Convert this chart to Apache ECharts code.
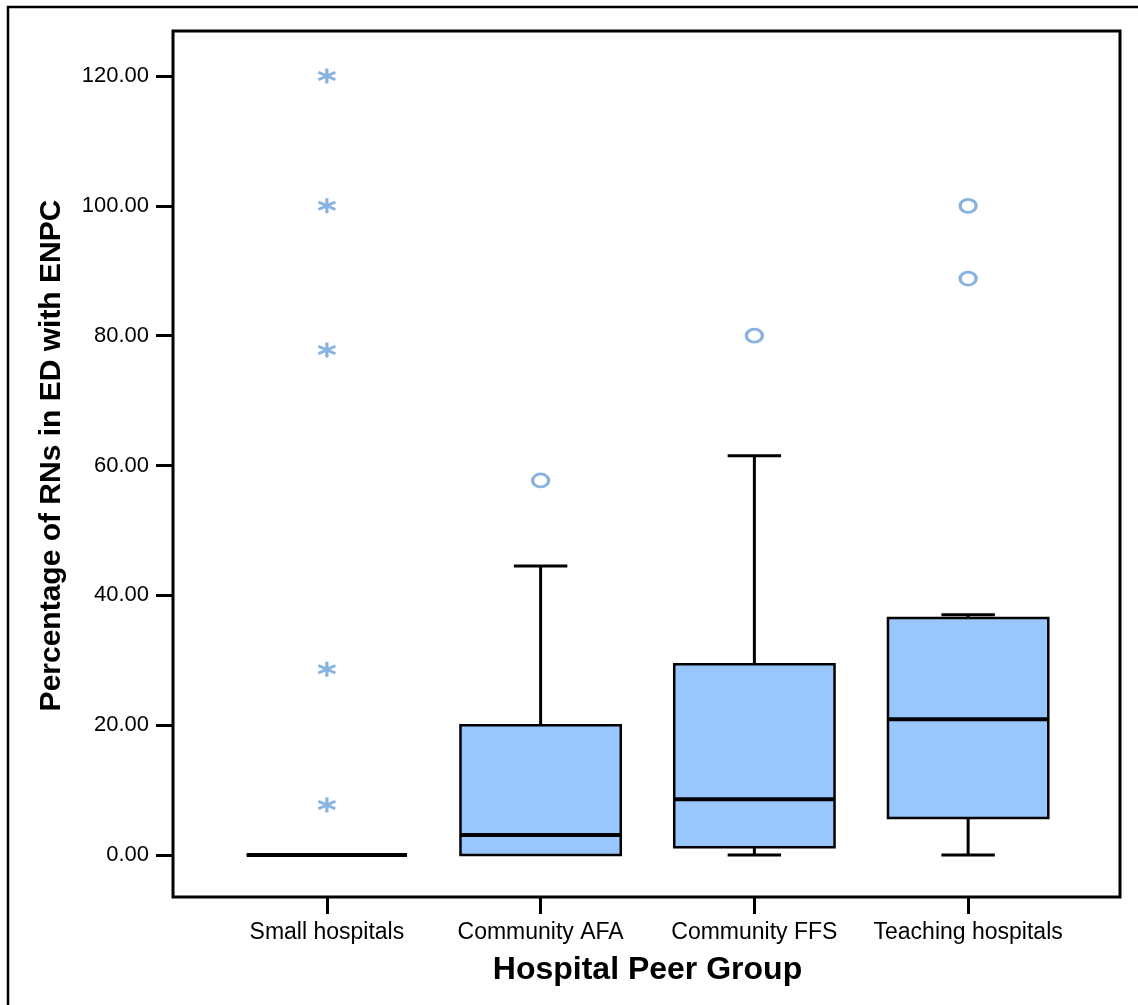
<!DOCTYPE html>
<html>
<head>
<meta charset="utf-8">
<script src="https://cdn.jsdelivr.net/npm/echarts@6/dist/echarts.min.js"></script>
<style>
    html, body { margin: 0; padding: 0; background: #fff; }
    #main { width: 1138px; height: 1005px; }
</style>
</head>
<body>
<div id="main"></div>
<script>
    'use strict';
    var categories = ['Small hospitals', 'Community AFA', 'Community FFS', 'Teaching hospitals'];
    // [low whisker, Q1, median, Q3, high whisker]
    var boxValues = [
        [0, 0, 0, 0, 0],
        [0, 0, 3.1, 20, 44.5],
        [0, 1.2, 8.6, 29.4, 61.5],
        [0, 5.7, 20.9, 36.5, 37]
    ];
    // extreme outliers (stars)
    var extremes = [[0, 120], [0, 100], [0, 77.8], [0, 28.6], [0, 7.7]];
    // outliers (circles)
    var outliers = [[1, 57.7], [2, 80], [3, 100], [3, 88.8]];
    var yTicks = { min: 0, max: 120, interval: 20 };

    var boxData = boxValues.map(function (v, i) {
        return [i].concat(v);
    });

    var renderBox = function (params, api) {
        var x = api.value(0);
        var lo = api.coord([x, api.value(1)]);
        var q1 = api.coord([x, api.value(2)]);
        var med = api.coord([x, api.value(3)]);
        var q3 = api.coord([x, api.value(4)]);
        var hi = api.coord([x, api.value(5)]);
        var band = api.size([1, 0])[0];
        var bw = band * 0.75, cw = bw / 3;
        var cx = lo[0];
        var line = { stroke: '#000', lineWidth: 3 };
        var children = [];
        if (hi[1] < q3[1]) {
            children.push({ type: 'line', shape: { x1: cx, y1: hi[1], x2: cx, y2: q3[1] }, style: line });
            children.push({ type: 'line', shape: { x1: cx - cw / 2, y1: hi[1], x2: cx + cw / 2, y2: hi[1] }, style: line });
        }
        if (lo[1] > q1[1]) {
            children.push({ type: 'line', shape: { x1: cx, y1: q1[1], x2: cx, y2: lo[1] }, style: line });
            children.push({ type: 'line', shape: { x1: cx - cw / 2, y1: lo[1], x2: cx + cw / 2, y2: lo[1] }, style: line });
        }
        children.push({
            type: 'rect',
            shape: { x: cx - bw / 2, y: q3[1], width: bw, height: q1[1] - q3[1] },
            style: { fill: '#99c6fd', stroke: '#000', lineWidth: 2.5 }
        });
        children.push({
            type: 'line',
            shape: { x1: cx - bw / 2, y1: med[1], x2: cx + bw / 2, y2: med[1] },
            style: { stroke: '#000', lineWidth: 4 }
        });
        return { type: 'group', children: children };
    };

    var font = 'Liberation Sans, Arial, sans-serif';
    var chart = echarts.init(document.getElementById('main'));
    chart.setOption({
        animation: false,
        backgroundColor: '#fff',
        textStyle: { fontFamily: font, color: '#000' },
        graphic: [
            { type: 'rect', shape: { x: 8, y: 7, width: 1140, height: 1010 }, style: { fill: 'none', stroke: '#000', lineWidth: 2.5 }, z: 0 },
            { type: 'rect', shape: { x: 173, y: 31, width: 947, height: 866 }, style: { fill: 'none', stroke: '#000', lineWidth: 3 }, z: 10 }
        ],
        grid: [
            // data area (0 .. 120)
            { left: 220, top: 76, width: 855, height: 779 },
            // outer plot frame, carries the category labels
            { left: 220, top: 31, width: 855, height: 866 }
        ],
        xAxis: [
            {
                type: 'category',
                gridIndex: 0,
                data: categories,
                show: false
            },
            {
                type: 'category',
                gridIndex: 1,
                data: categories,
                axisLine: { show: false },
                axisTick: { show: true, alignWithLabel: true, length: 17, lineStyle: { color: '#000', width: 3 } },
                axisLabel: { interval: 0, fontSize: 23, color: '#000', margin: 24, fontFamily: font },
                name: 'Hospital Peer Group',
                nameLocation: 'middle',
                nameGap: 57,
                nameTextStyle: { fontSize: 32, fontWeight: 'bold', color: '#000', fontFamily: font }
            }
        ],
        yAxis: [
            {
                type: 'value',
                gridIndex: 0,
                min: yTicks.min,
                max: yTicks.max,
                interval: yTicks.interval,
                offset: 47,
                splitLine: { show: false },
                axisLine: { show: false },
                axisTick: { show: true, length: 17, lineStyle: { color: '#000', width: 3 } },
                axisLabel: {
                    fontSize: 22, color: '#000', margin: 24, fontFamily: font,
                    formatter: function (v) { return v.toFixed(2); }
                },
                name: 'Percentage of RNs in ED with ENPC',
                nameLocation: 'middle',
                nameGap: 106,
                nameTextStyle: { fontSize: 30, fontWeight: 'bold', color: '#000', fontFamily: font, padding: [0, 0, 0, 20] }
            },
            {
                type: 'value',
                gridIndex: 1,
                show: false
            }
        ],
        series: [
            {
                type: 'custom',
                renderItem: renderBox,
                data: boxData,
                encode: { x: 0, y: [1, 2, 3, 4, 5] },
                clip: false,
                z: 2
            },
            {
                type: 'scatter',
                data: extremes,
                symbol: 'path://M0,-10 L0,10 M-8.66,-5 L8.66,5 M-8.66,5 L8.66,-5',
                symbolSize: [17, 15],
                itemStyle: { color: 'none', borderColor: '#6a9fd8', borderWidth: 3 },
                z: 3
            },
            {
                type: 'scatter',
                data: outliers,
                symbol: 'circle',
                symbolSize: [16, 13],
                itemStyle: { color: 'none', borderColor: '#6a9fd8', borderWidth: 3 },
                z: 3
            }
        ]
    });
</script>
</body>
</html>
